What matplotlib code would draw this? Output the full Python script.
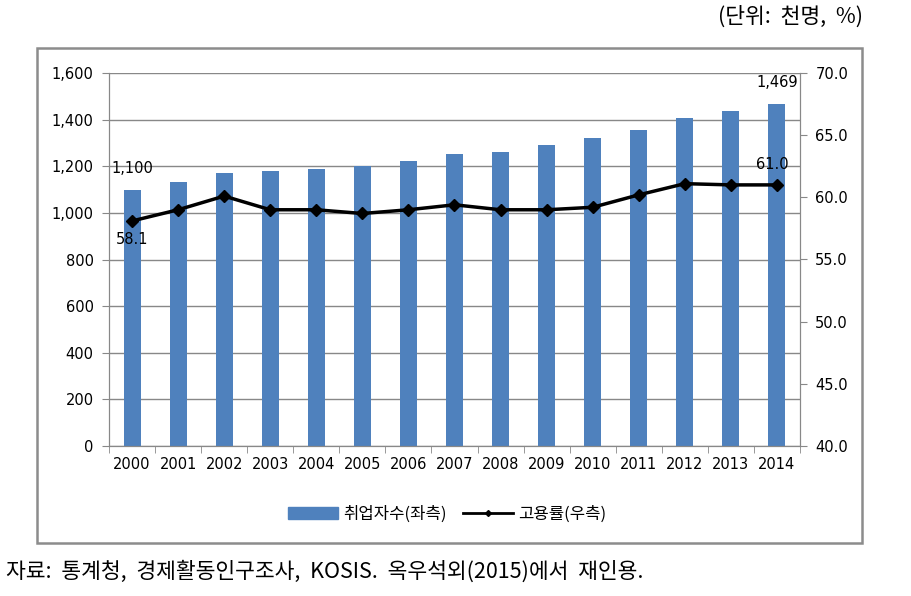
import matplotlib.pyplot as plt
import matplotlib.patches as patches
from matplotlib.lines import Line2D

plt.rcParams['font.family'] = ['Noto Sans CJK KR', 'DejaVu Sans']

years = ["2000", "2001", "2002", "2003", "2004", "2005", "2006", "2007",
         "2008", "2009", "2010", "2011", "2012", "2013", "2014"]
employed = [1100, 1134, 1173, 1180, 1187, 1200, 1224, 1253,
            1260, 1290, 1320, 1356, 1409, 1438, 1469]
emp_rate = [58.1, 59.0, 60.1, 59.0, 59.0, 58.7, 59.0, 59.4,
            59.0, 59.0, 59.2, 60.2, 61.1, 61.0, 61.0]

bar_color = "#4f81bd"
tick_font = "DejaVu Sans"
fs = 10.5

fig = plt.figure(figsize=(9.12, 5.96), dpi=100)

# outer chart frame
fig.patches.append(patches.Rectangle(
    (37 / 912, 1 - 543 / 596), (862 - 37) / 912, (543 - 48) / 596,
    transform=fig.transFigure, fill=False, edgecolor="#8c8c8c", lw=1.8))

ax = fig.add_axes([109 / 912, 1 - 446 / 596, (800 - 109) / 912, (446 - 73) / 596])
x = list(range(len(years)))
ax.bar(x, employed, width=0.37, color=bar_color, zorder=2)
ax.set_xlim(-0.5, len(years) - 0.5)
ax.set_ylim(0, 1600)
ax.set_yticks(range(0, 1601, 200))
ax.set_yticklabels([f"{v:,}" for v in range(0, 1601, 200)],
                   family=tick_font, fontsize=fs)
ax.yaxis.grid(True, color="#888888", lw=1, zorder=0)
ax.set_axisbelow(True)
ax.set_xticks(x)
ax.set_xticklabels(years, family=tick_font, fontsize=fs)
ax.tick_params(axis="x", length=0, pad=8)
ax.set_xticks([i - 0.5 for i in range(len(years) + 1)], minor=True)
ax.tick_params(axis="x", which="minor", length=5, color="#888888")
ax.tick_params(axis="y", length=5, color="#888888", pad=6)
ax.spines["top"].set_visible(False)
for s in ["left", "bottom", "right"]:
    ax.spines[s].set_color("#888888")

ax2 = ax.twinx()
ax2.plot(x, emp_rate, color="black", lw=2.5, marker="D", markersize=6, zorder=3)
ax2.set_ylim(40, 70)
ax2.set_yticks(range(40, 71, 5))
ax2.set_yticklabels([f"{v:.1f}" for v in range(40, 71, 5)],
                    family=tick_font, fontsize=fs)
ax2.tick_params(axis="y", length=5, color="#888888", pad=6)
ax2.spines["top"].set_visible(False)
for s in ["left", "bottom", "right"]:
    ax2.spines[s].set_color("#888888")

# data labels
ax.text(x[0], employed[0] + 60, f"{employed[0]:,}", ha="center", va="bottom",
        family=tick_font, fontsize=fs)
ax.text(x[-1], employed[-1] + 60, f"{employed[-1]:,}", ha="center", va="bottom",
        family=tick_font, fontsize=fs)
ax2.text(x[0], emp_rate[0] - 0.9, f"{emp_rate[0]:.1f}", ha="center", va="top",
         family=tick_font, fontsize=fs)
ax2.text(x[-1] - 0.1, emp_rate[-1] + 1.0, f"{emp_rate[-1]:.1f}", ha="center",
         va="bottom", family=tick_font, fontsize=fs)

handles = [patches.Patch(color=bar_color),
           Line2D([], [], color="black", lw=2, marker="D", markersize=3)]
fig.legend(handles, ["취업자수(좌측)", "고용률(우측)"], loc="center",
           bbox_to_anchor=(447 / 912, 1 - 514 / 596), ncol=2, frameon=False,
           fontsize=12, handlelength=3.0, handletextpad=0.3, columnspacing=1.0)

fig.text(863 / 912, 1 - 17 / 596, "(단위:  천명,  %)", ha="right", va="center",
         fontsize=15.5)
fig.text(6 / 912, 1 - 572 / 596,
         "자료:  통계청,  경제활동인구조사,  KOSIS.  옥우석외(2015)에서  재인용.",
         ha="left", va="center", fontsize=15.5)

fig.savefig("out.png", dpi=100)
